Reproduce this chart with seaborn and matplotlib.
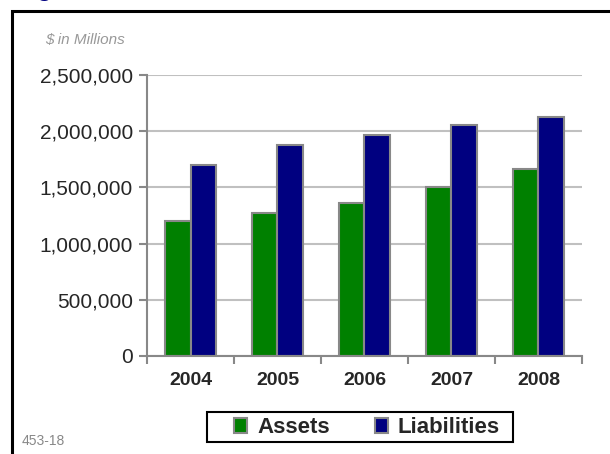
import pandas as pd
import seaborn as sns
import matplotlib.pyplot as plt
from matplotlib.patches import Rectangle
from matplotlib.ticker import FuncFormatter

years = ["2004", "2005", "2006", "2007", "2008"]
assets = [1200000, 1275000, 1364000, 1504000, 1664000]
liabilities = [1700000, 1877000, 1966000, 2055000, 2124000]

df = pd.DataFrame({
    "year": years * 2,
    "value": assets + liabilities,
    "series": ["Assets"] * len(years) + ["Liabilities"] * len(years),
})

sns.set_style("white")
plt.rcParams["font.family"] = ["Liberation Sans", "DejaVu Sans"]

fig = plt.figure(figsize=(6.1, 4.54), dpi=100)
ax = fig.add_axes([0.241, 0.216, 0.713, 0.619])

sns.barplot(data=df, x="year", y="value", hue="series", order=years,
            palette={"Assets": "#008000", "Liabilities": "#000080"},
            width=0.58, gap=0, edgecolor="#888888", linewidth=1.5,
            saturation=1, ax=ax)

ax.set_ylim(0, 2500000)
ax.set_yticks(range(0, 2500001, 500000))
ax.yaxis.set_major_formatter(FuncFormatter(lambda v, p: f"{int(v):,}"))
ax.set_xlim(-0.5, 4.5)
ax.set_axisbelow(True)
ax.yaxis.grid(True, color="#c0c0c0", linewidth=1.5)
ax.xaxis.grid(False)

for s in ["top", "right"]:
    ax.spines[s].set_visible(False)
for s in ["left", "bottom"]:
    ax.spines[s].set_color("#888888")
    ax.spines[s].set_linewidth(1.5)

ax.tick_params(axis="y", left=True, length=6, width=1.5, color="#888888",
               labelsize=15, pad=4)
ax.tick_params(axis="x", bottom=False, labelsize=14, pad=8)
for lbl in ax.get_xticklabels():
    lbl.set_fontweight("bold")
ax.set_xticks([i - 0.5 for i in range(6)], minor=True)
ax.tick_params(axis="x", which="minor", bottom=True, length=6, width=1.5,
               color="#888888")
ax.set_xlabel("")
ax.set_ylabel("")

leg = ax.legend(loc="center", bbox_to_anchor=(0.506, -0.256), ncol=2,
                frameon=False, prop={"weight": "bold", "size": 16},
                handlelength=0.6, handleheight=0.6, handletextpad=0.45,
                columnspacing=2.0, borderpad=0.15, borderaxespad=0)

# legend box
fig.patches.append(Rectangle((207 / 610, 1 - 442 / 454), 306 / 610, 30 / 454,
                             transform=fig.transFigure, fill=False,
                             edgecolor="black", linewidth=1.5))

# outer frame of the slide
fig.patches.append(Rectangle((12 / 610, -0.1), 1.2, (454 - 11) / 454 + 0.1,
                             transform=fig.transFigure, fill=False,
                             edgecolor="black", linewidth=2.2))

fig.text(45 / 610, 1 - 40 / 454, "$ in Millions", fontsize=11,
         style="italic", color="#999999", va="center")
fig.text(22 / 610, 1 - 441 / 454, "453-18", fontsize=10, color="#888888",
         va="center")
fig.text(37 / 610, 1 + 4 / 454, "g", fontsize=18, fontweight="bold",
         color="#000080", va="baseline")

fig.savefig("out.png", dpi=100)
